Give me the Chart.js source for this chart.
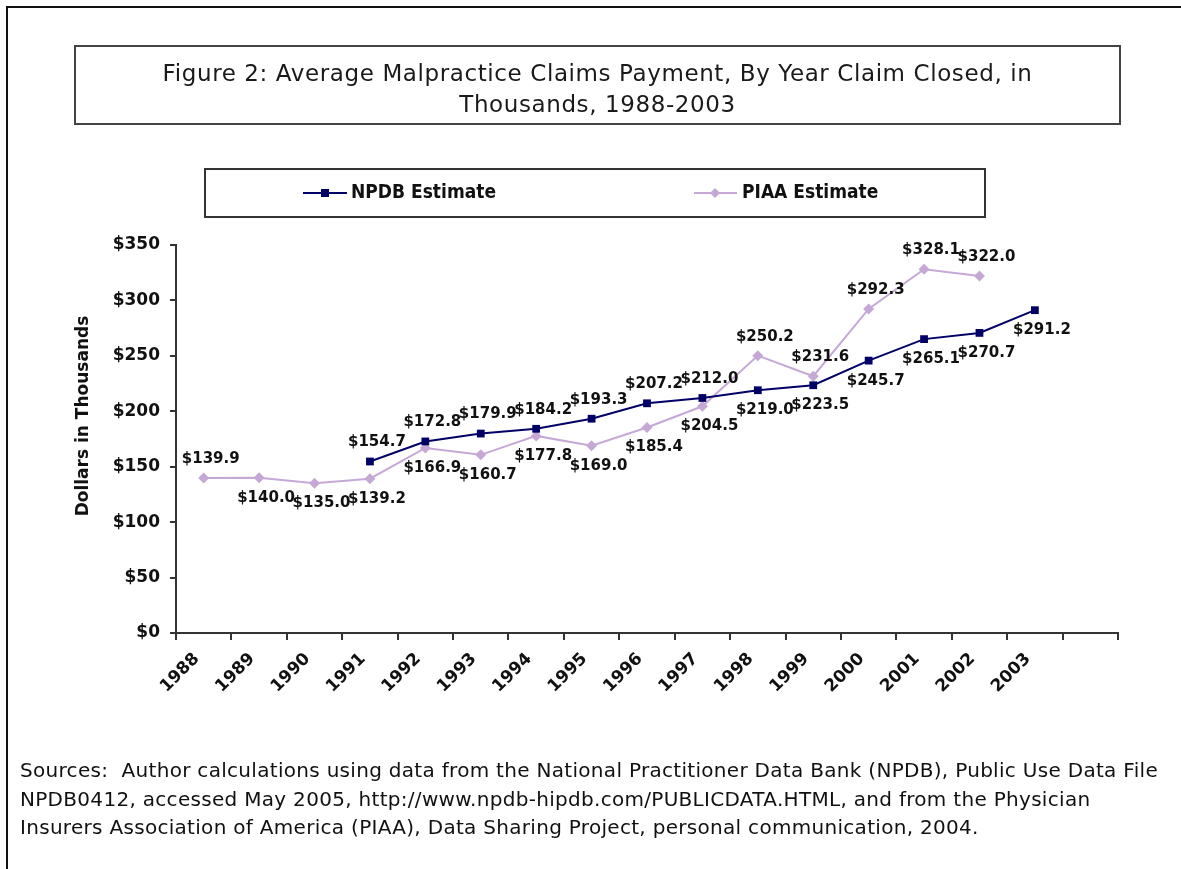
<!DOCTYPE html>
<html>
<head>
<meta charset="utf-8">
<title>Figure 2: Average Malpractice Claims Payment</title>
<script src="https://cdn.jsdelivr.net/npm/chart.js"></script>
<style>
  html, body { margin: 0; padding: 0; background: #fff; }
  #page { position: relative; width: 1181px; height: 869px; overflow: hidden; background: #fff;
          font-family: "DejaVu Sans", Verdana, sans-serif; }
  #frame { position: absolute; left: 6px; top: 6px; width: 1300px; height: 1000px;
           border-left: 2px solid #111; border-top: 2px solid #111; }
  #chart { position: absolute; left: 0; top: 0; }
  #title-box { position: absolute; left: 74px; top: 45px; width: 1047px; height: 80px; box-sizing: border-box;
               border: 2px solid #444; text-align: center; font-size: 23px; letter-spacing: 0.6px; line-height: 31px;
               padding-top: 11px; color: #1a1a1a; white-space: nowrap; }
  #sources { position: absolute; left: 20px; top: 756px; font-size: 20px; letter-spacing: 0.3px; line-height: 28.5px;
             color: #111; white-space: nowrap; }
</style>
</head>
<body>
<div id="page">
  <div id="frame"></div>
  <canvas id="chart" width="1181" height="869"></canvas>
  <div id="title-box">Figure 2: Average Malpractice Claims Payment, By Year Claim Closed, in<br>Thousands, 1988-2003</div>
  <div id="sources">Sources:&nbsp; Author calculations using data from the National Practitioner Data Bank (NPDB), Public Use Data File<br>NPDB0412, accessed May 2005, http://www.npdb-hipdb.com/PUBLICDATA.HTML, and from the Physician<br>Insurers Association of America (PIAA), Data Sharing Project, personal communication, 2004.</div>
</div>
<script>
// --- データ（千ドル単位）
const years = ["1988", "1989", "1990", "1991", "1992", "1993", "1994", "1995",
               "1996", "1997", "1998", "1999", "2000", "2001", "2002", "2003", ""];
const npdbValues = [null, null, null, 154.7, 172.8, 179.9, 184.2, 193.3,
                    207.2, 212.0, 219.0, 223.5, 245.7, 265.1, 270.7, 291.2, null];
const piaaValues = [139.9, 140.0, 135.0, 139.2, 166.9, 160.7, 177.8, 169.0,
                    185.4, 204.5, 250.2, 231.6, 292.3, 328.1, 322.0, null, null];
const yTickValues = [0, 50, 100, 150, 200, 250, 300, 350];

// ラベルを点の上(a)に置くか下(b)に置くか
const npdbLabelSide = ["b", "b", "b", "a", "a", "a", "a", "a", "a", "a", "b", "b", "b", "b", "b", "b", "b"];
const piaaLabelSide = ["a", "b", "b", "b", "b", "b", "b", "b", "b", "b", "a", "a", "a", "a", "a", "b", "b"];

const NPDB_COLOR = "#000066";
const PIAA_COLOR = "#c6a8d6";
const LABEL_FONT = 'bold 15px "DejaVu Sans", Verdana, sans-serif';

function formatDollars(v) {
    return "$" + v.toFixed(1);
}

// 値ラベル（点の上下に表示）
const valueLabelPlugin = {
    id: "valueLabels",
    afterDatasetsDraw(chart) {
        const ctx = chart.ctx;
        ctx.save();
        ctx.font = LABEL_FONT;
        ctx.fillStyle = "#111";
        ctx.textAlign = "center";
        ctx.textBaseline = "middle";
        chart.data.datasets.forEach((ds, i) => {
            const meta = chart.getDatasetMeta(i);
            meta.data.forEach((pt, j) => {
                const v = ds.data[j];
                if (v == null) return;
                const dy = ds.labelSide[j] === "a" ? -19 : 20;
                ctx.fillText(formatDollars(v), pt.x + 7, pt.y + dy);
            });
        });
        ctx.restore();
    }
};

// 凡例ボックスとY軸タイトル
const frameTextPlugin = {
    id: "frameText",
    afterDraw(chart) {
        const ctx = chart.ctx;
        ctx.save();

        // Y軸タイトル
        ctx.font = 'bold 17px "DejaVu Sans", Verdana, sans-serif';
        ctx.fillStyle = "#111";
        ctx.textAlign = "center";
        ctx.textBaseline = "middle";
        ctx.translate(84, 416);
        ctx.rotate(-Math.PI / 2);
        ctx.fillText("Dollars in Thousands", 0, 0);
        ctx.setTransform(1, 0, 0, 1, 0, 0);

        // 凡例
        ctx.strokeStyle = "#333";
        ctx.lineWidth = 2;
        ctx.strokeRect(205, 169, 780, 48);

        const ly = 193;
        ctx.lineWidth = 2;
        ctx.strokeStyle = NPDB_COLOR;
        ctx.beginPath(); ctx.moveTo(303, ly); ctx.lineTo(347, ly); ctx.stroke();
        ctx.fillStyle = NPDB_COLOR;
        ctx.fillRect(321, ly - 4, 8, 8);

        ctx.strokeStyle = PIAA_COLOR;
        ctx.beginPath(); ctx.moveTo(694, ly); ctx.lineTo(737, ly); ctx.stroke();
        ctx.fillStyle = PIAA_COLOR;
        ctx.beginPath();
        ctx.moveTo(715, ly - 5); ctx.lineTo(720, ly); ctx.lineTo(715, ly + 5); ctx.lineTo(710, ly);
        ctx.closePath(); ctx.fill();

        ctx.font = 'bold 19px "DejaVu Sans Condensed", "DejaVu Sans", sans-serif';
        ctx.fillStyle = "#111";
        ctx.textAlign = "left";
        ctx.fillText("NPDB Estimate", 351, ly);
        ctx.fillText("PIAA Estimate", 742, ly);
        ctx.restore();
    }
};

function createChart() {
    const canvas = document.getElementById("chart");
    new Chart(canvas, {
        type: "line",
        data: {
            labels: years,
            datasets: [
                {
                    label: "NPDB Estimate",
                    data: npdbValues,
                    labelSide: npdbLabelSide,
                    borderColor: NPDB_COLOR,
                    backgroundColor: NPDB_COLOR,
                    borderWidth: 2,
                    pointStyle: "rect",
                    pointRadius: 5.5,
                    pointBorderWidth: 0,
                    tension: 0,
                    clip: false
                },
                {
                    label: "PIAA Estimate",
                    data: piaaValues,
                    labelSide: piaaLabelSide,
                    borderColor: PIAA_COLOR,
                    backgroundColor: PIAA_COLOR,
                    borderWidth: 2,
                    pointStyle: "rectRot",
                    pointRadius: 5.5,
                    pointBorderWidth: 0,
                    tension: 0,
                    clip: false
                }
            ]
        },
        options: {
            responsive: false,
            animation: false,
            devicePixelRatio: 1,
            layout: { padding: { left: 66, top: 245, right: 63, bottom: 116 } },
            plugins: {
                legend: { display: false },
                tooltip: { enabled: false }
            },
            scales: {
                y: {
                    min: 0,
                    max: 350,
                    afterBuildTicks: scale => { scale.ticks = yTickValues.map(v => ({ value: v })); },
                    afterFit: scale => { scale.width = 110; },
                    border: { display: true, color: "#333", width: 2 },
                    grid: { drawOnChartArea: false, drawTicks: true, tickLength: 6, color: "#333", lineWidth: 2 },
                    ticks: {
                        padding: 10,
                        color: "#111",
                        font: { family: '"DejaVu Sans", Verdana, sans-serif', size: 17, weight: "bold" },
                        callback: v => "$" + v
                    }
                },
                x: {
                    offset: true,
                    afterFit: scale => { scale.height = 120; },
                    border: { display: true, color: "#333", width: 2 },
                    grid: { offset: true, drawOnChartArea: false, drawTicks: true, tickLength: 7, color: "#333", lineWidth: 2 },
                    ticks: {
                        autoSkip: false,
                        minRotation: 45,
                        maxRotation: 45,
                        padding: 9,
                        labelOffset: -7,
                        color: "#111",
                        font: { family: '"DejaVu Sans", Verdana, sans-serif', size: 17, weight: "bold" }
                    }
                }
            }
        },
        plugins: [valueLabelPlugin, frameTextPlugin]
    });
}

createChart();
</script>
</body>
</html>
